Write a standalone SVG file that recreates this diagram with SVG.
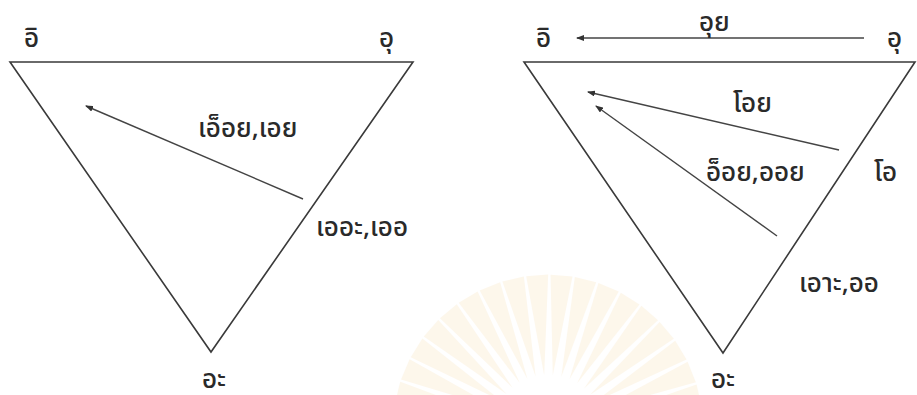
<svg xmlns="http://www.w3.org/2000/svg" width="917" height="395" viewBox="0 0 917 395">
<style>
.tri{fill:none;stroke:#3a3a3a;stroke-width:1.6;stroke-linejoin:miter}
.arr{fill:none;stroke:#444;stroke-width:1.4}
.lbl{font-family:"Noto Sans","Noto Sans Thai",Tahoma,sans-serif;font-size:26px;font-weight:500;fill:#2a2a2a}
.ray{fill:#fae7c4}
</style>
<defs>
<marker id="ah" viewBox="0 0 8 6" refX="7" refY="3" markerWidth="8" markerHeight="6" markerUnits="userSpaceOnUse" orient="auto">
<path d="M0,0 L8,3 L0,6 Z" fill="#333"/>
</marker>
<path id="r" d="M-55,0 L-155,-11 L-155,11 Z"/>
</defs>
<rect width="917" height="395" fill="#fff"/>
<g id="watermark" opacity="0.32">
<g transform="translate(548,430)" class="ray">
<use href="#r" transform="rotate(5)"/>
<use href="#r" transform="rotate(14)"/>
<use href="#r" transform="rotate(23)"/>
<use href="#r" transform="rotate(32)"/>
<use href="#r" transform="rotate(41)"/>
<use href="#r" transform="rotate(50)"/>
<use href="#r" transform="rotate(59)"/>
<use href="#r" transform="rotate(68)"/>
<use href="#r" transform="rotate(77)"/>
<use href="#r" transform="rotate(86)"/>
<use href="#r" transform="rotate(95)"/>
<use href="#r" transform="rotate(104)"/>
<use href="#r" transform="rotate(113)"/>
<use href="#r" transform="rotate(122)"/>
<use href="#r" transform="rotate(131)"/>
<use href="#r" transform="rotate(140)"/>
<use href="#r" transform="rotate(149)"/>
<use href="#r" transform="rotate(158)"/>
<use href="#r" transform="rotate(167)"/>
<use href="#r" transform="rotate(176)"/>
</g>
</g>
<g id="triangle-left">
<polygon class="tri" points="10,62 413,62 211,352"/>
</g>
<g id="triangle-right">
<polygon class="tri" points="524,62 915,62 723,353"/>
</g>
<g id="connectors">
<line class="arr" x1="303" y1="199" x2="86" y2="106" marker-end="url(#ah)"/>
<line class="arr" x1="864" y1="38" x2="577" y2="38" marker-end="url(#ah)"/>
<line class="arr" x1="839" y1="150" x2="588" y2="92" marker-end="url(#ah)"/>
<line class="arr" x1="777" y1="236" x2="596" y2="106" marker-end="url(#ah)"/>
</g>
<g id="labels-left">
<text class="lbl" x="24" y="47">อิ</text>
<text class="lbl" x="379" y="47">อุ</text>
<text class="lbl" x="198" y="137">เอ็อย,เอย</text>
<text class="lbl" x="316" y="236">เออะ,เออ</text>
<text class="lbl" x="202" y="388">อะ</text>
</g>
<g id="labels-right">
<text class="lbl" x="536" y="47">อิ</text>
<text class="lbl" x="887" y="47">อุ</text>
<text class="lbl" x="699" y="31">อุย</text>
<text class="lbl" x="733" y="112">โอย</text>
<text class="lbl" x="706" y="181">อ็อย,ออย</text>
<text class="lbl" x="874" y="181">โอ</text>
<text class="lbl" x="799" y="292">เอาะ,ออ</text>
<text class="lbl" x="711" y="388">อะ</text>
</g>
</svg>
